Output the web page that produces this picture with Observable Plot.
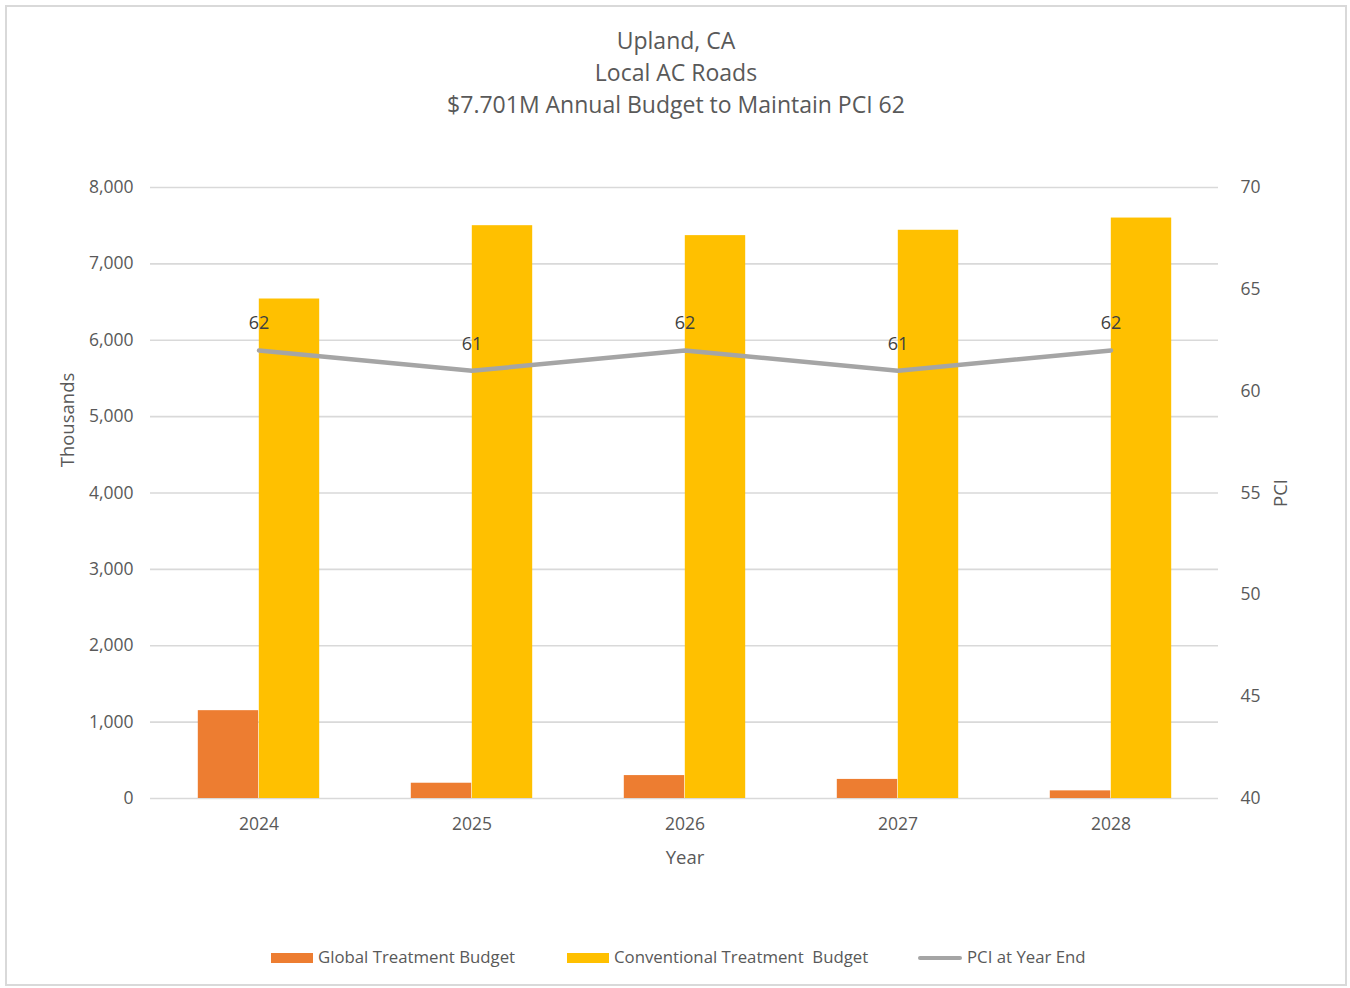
<!DOCTYPE html>
<html><head><meta charset="utf-8">
<script src="https://cdn.jsdelivr.net/npm/d3@7"></script>
<script src="https://cdn.jsdelivr.net/npm/@observablehq/plot@0.6"></script>
<style>
body{margin:0;background:#fff;font-family:"Open Sans",sans-serif;color:#595959;width:1350px;height:988px;position:relative;overflow:hidden;}
#frame{position:absolute;left:5px;top:5px;width:1342px;height:981px;border:2px solid #d9d9d9;box-sizing:border-box;}
.t{position:absolute;left:0;width:1352px;text-align:center;font-size:23px;line-height:32px;}
#chart{position:absolute;left:0;top:140px;}
.lab{position:absolute;font-size:18.5px;white-space:nowrap;}
.rot{transform:translate(-50%,-50%) rotate(-90deg);}
#legend{position:absolute;top:945px;left:0;width:1350px;font-size:16.8px;}
.li{position:absolute;top:0;height:24px;line-height:24px;white-space:nowrap;}
.sw{display:inline-block;width:42px;height:10px;vertical-align:middle;margin-right:5px;position:relative;top:-1px;}
.ln{display:inline-block;width:44px;height:4px;border-radius:2px;background:#a5a5a5;vertical-align:middle;margin-right:5px;position:relative;top:-1px;}
</style></head>
<body>
<div id="frame"></div>
<div class="t" style="top:24px">Upland, CA</div>
<div class="t" style="top:56px">Local AC Roads</div>
<div class="t" style="top:88px">$7.701M Annual Budget to Maintain PCI 62</div>
<div id="chart"></div>
<div class="lab rot" style="left:66px;top:420px">Thousands</div>
<div class="lab rot" style="left:1279px;top:493px">PCI</div>
<div class="lab" style="left:685px;top:856px;transform:translate(-50%,-50%)">Year</div>
<div id="legend">
  <div class="li" style="left:271px"><span class="sw" style="background:#ed7d31"></span>Global Treatment Budget</div>
  <div class="li" style="left:567px"><span class="sw" style="background:#ffc000"></span>Conventional Treatment&nbsp; Budget</div>
  <div class="li" style="left:918px"><span class="ln"></span>PCI at Year End</div>
</div>
<script>
const years = ["2024", "2025", "2026", "2027", "2028"];
const globalBudget = [1150, 200, 300, 250, 100];
const conventionalBudget = [6540, 7500, 7370, 7440, 7600];
const pciYearEnd = [62, 61, 62, 61, 62];
const leftTicks = [0, 1000, 2000, 3000, 4000, 5000, 6000, 7000, 8000];
const rightTicks = [40, 45, 50, 55, 60, 65, 70];

const rows = years.map((y, i) => ({year: y, global: globalBudget[i], conventional: conventionalBudget[i], pci: pciYearEnd[i]}));

const width = 1350, height = 760;
const marginLeft = 150, marginRight = 132, marginTop = 47, marginBottom = 102;
const band = (width - marginLeft - marginRight) / years.length;
const barW = 61;
const outer = band / 2 - barW;

const lMin = leftTicks[0], lMax = leftTicks[leftTicks.length - 1];
const rMin = rightTicks[0], rMax = rightTicks[rightTicks.length - 1];
const toLeft = p => lMin + (p - rMin) / (rMax - rMin) * (lMax - lMin);
const toRight = v => rMin + (v - lMin) / (lMax - lMin) * (rMax - rMin);

const chart = Plot.plot({
  width, height, marginLeft, marginRight, marginTop, marginBottom,
  style: {fontFamily: "'Open Sans', sans-serif", fontSize: "17.5px", color: "#595959", background: "transparent"},
  x: {type: "band", domain: years, padding: 0},
  y: {domain: [lMin, lMax]},
  marks: [
    Plot.ruleY(leftTicks, {stroke: "#d9d9d9", strokeWidth: 1.6}),
    Plot.barY(rows, {x: "year", y: "global", fill: "#ed7d31", insetLeft: outer, insetRight: band / 2}),
    Plot.barY(rows, {x: "year", y: "conventional", fill: "#ffc000", insetLeft: band / 2, insetRight: outer}),
    Plot.line(rows, {x: "year", y: d => toLeft(d.pci), stroke: "#a5a5a5", strokeWidth: 4.5, strokeLinecap: "round"}),
    Plot.text(rows, {x: "year", y: d => toLeft(d.pci), text: d => String(d.pci), dy: -27, fill: "#404040", fontSize: 18}),
    Plot.axisY(leftTicks, {anchor: "left", tickSize: 0, tickPadding: 17, tickFormat: d3.format(","), label: null}),
    Plot.axisY(rightTicks.map(toLeft), {anchor: "right", tickSize: 0, tickPadding: 22, tickFormat: d => String(Math.round(toRight(d))), label: null}),
    Plot.axisX({tickSize: 0, tickPadding: 19, label: null})
  ]
});
document.getElementById("chart").appendChild(chart);
</script>
</body></html>
